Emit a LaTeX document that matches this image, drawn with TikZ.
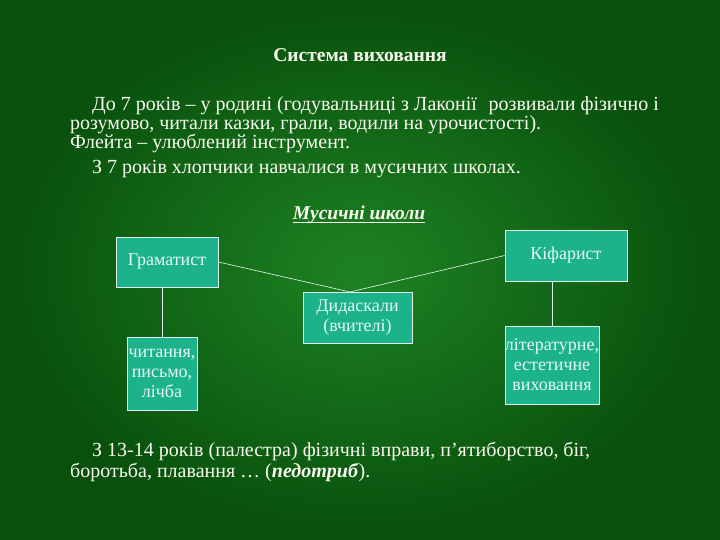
\documentclass[tikz,border=0pt]{standalone}
\usepackage{fontspec}
\setmainfont{Liberation Serif}
\definecolor{bgd}{RGB}{8,80,12}
\definecolor{bgl}{RGB}{30,130,35}
\definecolor{boxf}{RGB}{28,178,140}
\definecolor{txt}{RGB}{250,250,240}
\begin{document}
\begin{tikzpicture}[x=1pt,y=-1pt,
  bx/.style={draw=white!85!boxf,line width=0.8pt,fill=boxf,text=white!90!boxf,font=\fontsize{18}{20}\selectfont,align=center,inner sep=0pt},
  ln/.style={draw=white!90!boxf,line width=0.6pt},
  bt/.style={anchor=base west,text=txt,font=\fontsize{20}{19}\selectfont,inner sep=0pt}]
\path[use as bounding box] (0,0) rectangle (720,540);
\shade[inner color=bgl,outer color=bgd] (0,0) rectangle (720,540);
\node[bt,anchor=base,font=\bfseries\fontsize{19.5}{18}\selectfont] (title) at (360,62) {Система виховання};
\node[bt] (l1) at (92,111) {До 7 років – у родині (годувальниці з Лаконії\,\, розвивали фізично і};
\node[bt] (l2) at (70,130) {розумово, читали казки, грали, водили на урочистості).};
\node[bt] (l3) at (70,149) {Флейта – улюблений інструмент.};
\node[bt] (l4) at (92,174) {З 7 років хлопчики навчалися в мусичних школах.};
\node[bt,anchor=base,font=\bfseries\itshape\fontsize{19.5}{18}\selectfont] (ms) at (359,219) {Мусичні школи};
\draw[txt,line width=0.8pt] ([yshift=-3pt]ms.base west) -- ([yshift=-3pt]ms.base east);
\node[bx,minimum width=102,minimum height=50] (g) at (167,262) {Граматист};
\node[bx,minimum width=122,minimum height=51] (k) at (566,255.5) {Кіфарист};
\node[bx,minimum width=109,minimum height=51] (d) at (357.5,317.5) {Дидаскали\\(вчителі)};
\node[bx,minimum width=70,minimum height=73] (c) at (162,373.5) {читання,\\письмо,\\лічба};
\node[bx,minimum width=94,minimum height=78] (lit) at (552,365) {літературне,\\естетичне\\виховання};
\coordinate (dt) at (350,292);
\draw[ln] (g.east) -- (dt);
\draw[ln] (k.west) -- (dt);
\draw[ln] (g.south -| c.north) -- (c.north);
\draw[ln] (k.south -| lit.north) -- (lit.north);
\node[bt] (b1) at (92,456) {З 13-14 років (палестра) фізичні вправи, п’ятиборство, біг,};
\node[bt] (b2) at (70,477) {боротьба, плавання … (\textit{\textbf{педотриб}}).};
\end{tikzpicture}
\end{document}
